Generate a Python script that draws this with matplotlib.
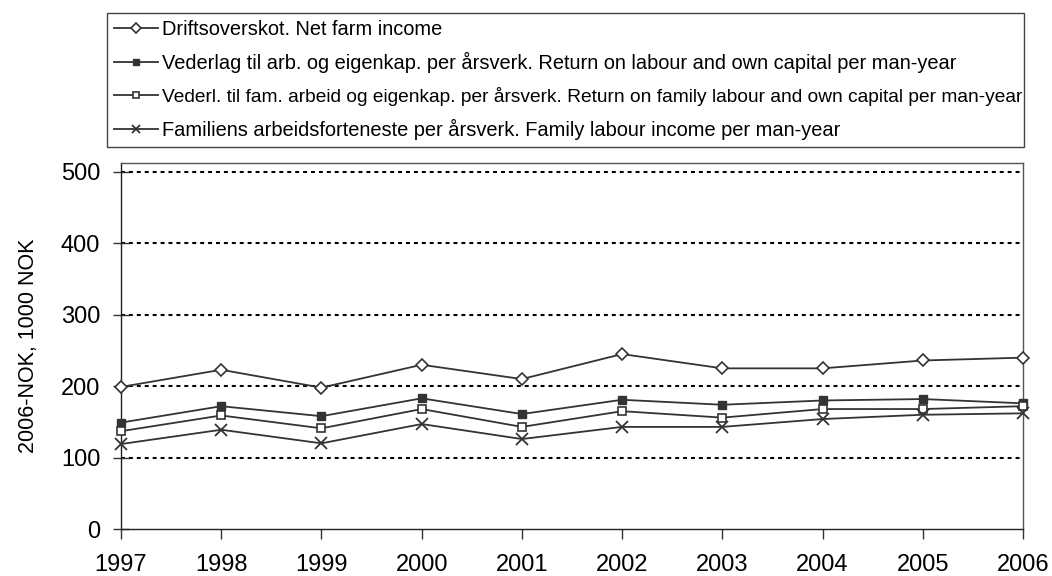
import matplotlib
matplotlib.use("Agg")
import matplotlib.pyplot as plt

years = [1997, 1998, 1999, 2000, 2001, 2002, 2003, 2004, 2005, 2006]
net_farm_income = [199, 223, 198, 230, 210, 245, 225, 225, 236, 240]
return_labour_capital = [149, 172, 158, 183, 161, 181, 174, 180, 182, 176]
return_family_labour = [137, 159, 141, 168, 143, 165, 156, 168, 168, 172]
family_labour_income = [119, 139, 120, 147, 126, 143, 143, 154, 160, 162]
labels = [
    "Driftsoverskot. Net farm income",
    "Vederlag til arb. og eigenkap. per årsverk. Return on labour and own capital per man-year",
    "Vederl. til fam. arbeid og eigenkap. per årsverk. Return on family labour and own capital per man-year",
    "Familiens arbeidsforteneste per årsverk. Family labour income per man-year",
]
yticks = [0, 100, 200, 300, 400, 500]

plt.rcParams['font.family'] = ['Liberation Sans', 'DejaVu Sans']

fig = plt.figure(figsize=(10.52, 5.76), dpi=100)
ax = fig.add_axes([121/1052, 47/576, (1023-121)/1052, (529-163)/576])

lc = '#333333'
x = list(range(len(years)))
for yv in yticks[1:]:
    ax.axhline(yv, color='black', lw=1.5, ls=(0, (1.9, 1.9)), zorder=1)

ax.plot(x, net_farm_income, color=lc, lw=1.3, marker='D', ms=6.5, mfc='white', mec=lc, mew=1.2, label=labels[0], zorder=3, clip_on=False)
ax.plot(x, return_labour_capital, color=lc, lw=1.3, marker='s', ms=6.3, mfc=lc, mec=lc, mew=1.0, label=labels[1], zorder=3, clip_on=False)
ax.plot(x, return_family_labour, color=lc, lw=1.3, marker='s', ms=5.3, mfc='white', mec=lc, mew=1.2, label=labels[2], zorder=3, clip_on=False)
ax.plot(x, family_labour_income, color=lc, lw=1.3, marker='x', ms=8.5, mec=lc, mew=1.3, label=labels[3], zorder=3, clip_on=False)

ax.set_xlim(0, len(years) - 1)
ax.set_ylim(0, 512.6)
ax.set_xticks(x)
ax.set_xticklabels([str(y) for y in years])
ax.set_yticks(yticks)
ax.tick_params(axis='y', direction='inout', length=12, width=1, color=lc, labelsize=17, pad=9)
ax.tick_params(axis='x', direction='out', length=7, width=1, color=lc, labelsize=17, pad=11)
for s in ax.spines.values():
    s.set_color('#555555')
    s.set_linewidth(1.0)
ax.spines['left'].set_color('#222222')
ax.spines['bottom'].set_color('#222222')
ax.set_ylabel("2006-NOK, 1000 NOK", fontsize=15.5, labelpad=16)

leg = fig.legend(loc='upper left', bbox_to_anchor=(107/1052, 1 - 146/576, (1024-107)/1052, 133/576),
                 mode='expand', fontsize=14.4, frameon=True, fancybox=False, edgecolor='#444444',
                 framealpha=1, handlelength=2.2, handletextpad=0.2, labelspacing=0.66,
                 borderpad=0.355, borderaxespad=0, markerscale=0.75)
leg.get_frame().set_linewidth(1.0)
leg.get_texts()[2].set_fontsize(13.8)

fig.savefig("out.png", dpi=100)
